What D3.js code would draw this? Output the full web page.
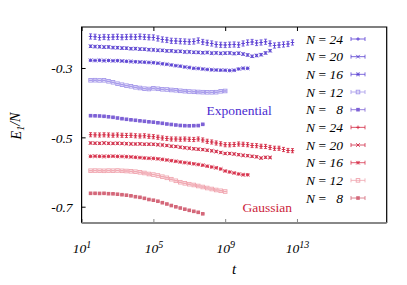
<!DOCTYPE html>
<html lang="en">
<head>
<meta charset="UTF-8">
<title>E1/N vs t</title>
<style>
    body { margin: 0; background: #fff; }
    svg text { font-family: "Liberation Serif", "Times New Roman", serif; font-style: italic; }
</style>
<script src="https://d3js.org/d3.v7.min.js"></script>
</head>
<body>
<div id="chart"></div>
<script>
    // log10 of t for each sample (series use the first n of them)
    var logT = [1.5, 1.75, 2.0, 2.25, 2.5, 2.75, 3.0, 3.25, 3.5, 3.75, 4.0, 4.25, 4.5, 4.75,
        5.0, 5.25, 5.5, 5.75, 6.0, 6.25, 6.5, 6.75, 7.0, 7.25, 7.5, 7.75, 8.0, 8.25, 8.5, 8.75,
        9.0, 9.25, 9.5, 9.75, 10.0, 10.25, 10.5, 10.75, 11.0, 11.25, 11.5, 11.75, 12.0, 12.25, 12.5, 12.75];

    var sizes = [24, 20, 16, 12, 8];

    // Exponential
    var expN24 = [-0.2091,-0.2100,-0.2120,-0.2106,-0.2115,-0.2106,-0.2100,-0.2112,-0.2106,-0.2100,-0.2106,-0.2094,-0.2106,-0.2115,
        -0.2120,-0.2149,-0.2178,-0.2192,-0.2216,-0.2221,-0.2230,-0.2236,-0.2244,-0.2236,-0.2207,-0.2250,-0.2273,-0.2293,-0.2322,-0.2331,
        -0.2337,-0.2328,-0.2322,-0.2331,-0.2293,-0.2265,-0.2250,-0.2279,-0.2265,-0.2244,-0.2293,-0.2351,-0.2337,-0.2322,-0.2308,-0.2265];
    var expN20 = [-0.2374,-0.2383,-0.2386,-0.2397,-0.2394,-0.2412,-0.2414,-0.2426,-0.2429,-0.2443,-0.2441,-0.2455,-0.2458,-0.2472,
        -0.2478,-0.2490,-0.2492,-0.2507,-0.2506,-0.2521,-0.2520,-0.2536,-0.2535,-0.2548,-0.2550,-0.2560,-0.2553,-0.2572,-0.2565,-0.2578,
        -0.2571,-0.2567,-0.2584,-0.2575,-0.2598,-0.2625,-0.2663,-0.2640,-0.2616,-0.2567,-0.2501];
    var expN16 = [-0.2778,-0.2784,-0.2778,-0.2787,-0.2784,-0.2792,-0.2789,-0.2798,-0.2807,-0.2813,-0.2821,-0.2827,-0.2833,-0.2841,
        -0.2847,-0.2862,-0.2879,-0.2893,-0.2913,-0.2933,-0.2948,-0.2971,-0.2986,-0.3009,-0.3014,-0.3029,-0.3043,-0.3052,-0.3058,-0.3063,
        -0.3066,-0.3072,-0.3066,-0.3029,-0.3009,-0.3009];
    var expN12 = [-0.3355,-0.3352,-0.3358,-0.3355,-0.3384,-0.3412,-0.3453,-0.3482,-0.3510,-0.3528,-0.3557,-0.3577,-0.3597,-0.3606,
        -0.3585,-0.3600,-0.3614,-0.3620,-0.3634,-0.3643,-0.3658,-0.3669,-0.3678,-0.3686,-0.3692,-0.3698,-0.3701,-0.3701,-0.3698,-0.3672,
        -0.3663];
    var expN8 = [-0.4376,-0.4379,-0.4384,-0.4393,-0.4407,-0.4422,-0.4442,-0.4462,-0.4479,-0.4494,-0.4508,-0.4523,-0.4537,-0.4552,
        -0.4563,-0.4580,-0.4595,-0.4615,-0.4629,-0.4644,-0.4658,-0.4664,-0.4667,-0.4664,-0.4661,-0.4624];

    // Gaussian
    var gauN24 = [-0.4924,-0.4929,-0.4932,-0.4927,-0.4932,-0.4938,-0.4932,-0.4941,-0.4946,-0.4941,-0.4955,-0.4961,-0.4955,-0.4970,
        -0.4981,-0.4998,-0.5019,-0.5033,-0.5048,-0.5048,-0.5053,-0.5048,-0.5056,-0.5062,-0.5048,-0.5076,-0.5114,-0.5134,-0.5163,-0.5186,
        -0.5212,-0.5215,-0.5206,-0.5192,-0.5200,-0.5212,-0.5235,-0.5240,-0.5258,-0.5263,-0.5292,-0.5315,-0.5315,-0.5350,-0.5379,-0.5384];
    var gauN20 = [-0.5163,-0.5169,-0.5172,-0.5163,-0.5172,-0.5175,-0.5172,-0.5177,-0.5183,-0.5189,-0.5192,-0.5189,-0.5198,-0.5198,
        -0.5200,-0.5212,-0.5221,-0.5235,-0.5255,-0.5264,-0.5284,-0.5301,-0.5313,-0.5330,-0.5342,-0.5353,-0.5371,-0.5388,-0.5408,-0.5437,
        -0.5466,-0.5466,-0.5480,-0.5500,-0.5518,-0.5529,-0.5547,-0.5561,-0.5596,-0.5576,-0.5581];
    var gauN16 = [-0.5547,-0.5544,-0.5547,-0.5550,-0.5547,-0.5544,-0.5550,-0.5552,-0.5558,-0.5564,-0.5575,-0.5584,-0.5596,-0.5604,
        -0.5607,-0.5619,-0.5636,-0.5653,-0.5673,-0.5691,-0.5711,-0.5728,-0.5745,-0.5763,-0.5783,-0.5803,-0.5832,-0.5855,-0.5878,-0.5913,
        -0.5971,-0.5999,-0.6028,-0.6057,-0.6077,-0.6080];
    var gauN12 = [-0.5962,-0.5959,-0.5962,-0.5965,-0.5959,-0.5962,-0.5956,-0.5965,-0.5971,-0.5979,-0.5991,-0.6008,-0.6028,-0.6057,
        -0.6074,-0.6100,-0.6135,-0.6167,-0.6207,-0.6253,-0.6294,-0.6325,-0.6351,-0.6374,-0.6403,-0.6432,-0.6461,-0.6490,-0.6518,-0.6541,
        -0.6562];
    var gauN8 = [-0.6614,-0.6614,-0.6617,-0.6614,-0.6625,-0.6628,-0.6640,-0.6654,-0.6668,-0.6686,-0.6712,-0.6729,-0.6758,-0.6792,
        -0.6813,-0.6842,-0.6885,-0.6922,-0.6966,-0.7003,-0.7038,-0.7072,-0.7104,-0.7133,-0.7162,-0.7205];

    // error bar half-heights, one per size
    var errExp = [0.0075, 0.0035, 0.0012, 0.0008, 0.0008];
    var errGau = [0.006, 0.003, 0.0012, 0.0008, 0.0008];

    var yTicks = [-0.7, -0.5, -0.3];
    var xTicks = [1, 5, 9, 13];

    var markers = ["plus", "cross", "star", "box", "fbox"];
    var colExp = ["#5b3fd4", "#5a42d0", "#6048d4", "#a497ea", "#7e62d6"];
    var colGau = ["#d42a44", "#d02c48", "#d8364f", "#f0a4ae", "#d4687a"];

    var width = 407, height = 285;
    var margin = {left: 81.6, right: 20.3, top: 27, bottom: 62};

    var svg = d3.select("#chart").append("svg")
        .attr("width", width)
        .attr("height", height);

    var x = d3.scaleLog()
        .domain([10, 1e18])
        .range([margin.left, width - margin.right]);

    var y = d3.scaleLinear()
        .domain([-0.747, -0.1818])
        .range([height - margin.bottom, margin.top]);

    // axes
    var yAxis = svg.append("g")
        .attr("transform", "translate(" + margin.left + ",0)")
        .call(d3.axisLeft(y).tickValues(yTicks).tickSize(-4).tickPadding(9)
            .tickFormat(function(d){ return d.toFixed(1); }));
    yAxis.select(".domain").remove();
    yAxis.selectAll("text").style("font-size", "13.5px").attr("dy", "0.35em");
    yAxis.selectAll("line").attr("stroke", "#000");

    var xAxis = svg.append("g")
        .attr("transform", "translate(0," + (height - margin.bottom) + ")")
        .call(d3.axisBottom(x).tickValues(xTicks.map(function(e){ return Math.pow(10, e); }))
            .tickSize(-4).tickPadding(20).tickFormat(""));
    xAxis.select(".domain").remove();
    xAxis.selectAll("line").attr("stroke", "#888");
    xAxis.selectAll(".tick text").each(function(d, i){
        var t = d3.select(this).style("font-size", "13.5px");
        t.append("tspan").text("10");
        t.append("tspan").attr("dy", "-0.45em").style("font-size", "10px").text(xTicks[i]);
    });

    var xTop = svg.append("g")
        .attr("transform", "translate(0," + margin.top + ")")
        .call(d3.axisTop(x).tickValues(xTicks.map(function(e){ return Math.pow(10, e); }))
            .tickSize(-4).tickFormat(""));
    xTop.select(".domain").remove();
    xTop.selectAll("line").attr("stroke", "#000");

    // frame
    var x0 = margin.left, x1 = width - margin.right, y0 = margin.top, y1 = height - margin.bottom;
    svg.append("path")
        .attr("d", "M" + x0 + "," + y1 + "V" + y0 + "H" + x1 + "V" + y1)
        .attr("fill", "none").attr("stroke", "#000").attr("stroke-width", 1.2);
    svg.append("line")
        .attr("x1", x0).attr("x2", x1).attr("y1", y1).attr("y2", y1)
        .attr("stroke", "#888").attr("stroke-width", 2);

    function marker(g, type, cx, cy, color) {
        var s = 1.8;
        if (type == "plus" || type == "star") {
            g.append("path").attr("d", "M" + (cx - s) + "," + cy + "H" + (cx + s) + "M" + cx + "," + (cy - s) + "V" + (cy + s))
                .attr("stroke", color).attr("stroke-width", 0.9);
        }
        if (type == "cross" || type == "star") {
            g.append("path").attr("d", "M" + (cx - s) + "," + (cy - s) + "L" + (cx + s) + "," + (cy + s) +
                "M" + (cx - s) + "," + (cy + s) + "L" + (cx + s) + "," + (cy - s))
                .attr("stroke", color).attr("stroke-width", 0.9);
        }
        if (type == "box") {
            g.append("rect").attr("x", cx - s).attr("y", cy - s).attr("width", 2 * s).attr("height", 2 * s)
                .attr("fill", "none").attr("stroke", color).attr("stroke-width", 0.9);
        }
        if (type == "fbox") {
            g.append("rect").attr("x", cx - s).attr("y", cy - s).attr("width", 2 * s).attr("height", 2 * s)
                .attr("fill", color);
        }
    }

    function drawSeries(values, err, type, color) {
        var g = svg.append("g");
        values.forEach(function(v, i){
            var cx = x(Math.pow(10, logT[i]));
            var cy = y(v);
            var ya = y(v + err), yb = y(v - err);
            // error bar with caps
            g.append("path")
                .attr("d", "M" + cx + "," + ya + "V" + yb +
                    "M" + (cx - 1.5) + "," + ya + "H" + (cx + 1.5) +
                    "M" + (cx - 1.5) + "," + yb + "H" + (cx + 1.5))
                .attr("stroke", color).attr("stroke-width", 0.8).attr("fill", "none");
            g.append("path")
                .attr("d", "M" + (cx - 1.5) + "," + cy + "H" + (cx + 1.5))
                .attr("stroke", color).attr("stroke-width", 0.6);
            marker(g, type, cx, cy, color);
        });
    }

    var expSeries = [expN24, expN20, expN16, expN12, expN8];
    var gauSeries = [gauN24, gauN20, gauN16, gauN12, gauN8];
    expSeries.forEach(function(s, i){ drawSeries(s, errExp[i], markers[i], colExp[i]); });
    gauSeries.forEach(function(s, i){ drawSeries(s, errGau[i], markers[i], colGau[i]); });

    // legend
    var legend = svg.append("g");
    var rows = [];
    sizes.forEach(function(n, i){ rows.push({n: n, type: markers[i], color: colExp[i]}); });
    sizes.forEach(function(n, i){ rows.push({n: n, type: markers[i], color: colGau[i]}); });
    rows.forEach(function(r, i){
        var ly = 39 + i * 17.67;
        var t = legend.append("text")
            .attr("x", 343).attr("y", ly + 4.5)
            .attr("text-anchor", "end")
            .style("font-size", "13.5px")
            .attr("xml:space", "preserve");
        t.append("tspan").text("N");
        t.append("tspan").style("font-style", "normal").text(" = ");
        t.append("tspan").text(r.n < 10 ? "  " + r.n : r.n);
        legend.append("path")
            .attr("d", "M351," + ly + "H365M351," + (ly - 2) + "V" + (ly + 2) + "M365," + (ly - 2) + "V" + (ly + 2))
            .attr("stroke", r.color).attr("stroke-width", 0.8).attr("fill", "none");
        marker(legend, r.type, 358, ly, r.color);
    });

    // annotations
    svg.append("text")
        .attr("x", 206.5).attr("y", 115)
        .style("font-style", "normal").style("font-size", "13.5px")
        .attr("fill", "#4b2bd0")
        .text("Exponential");
    svg.append("text")
        .attr("x", 242.5).attr("y", 212)
        .style("font-style", "normal").style("font-size", "13.5px")
        .attr("fill", "#cc1f3d")
        .text("Gaussian");

    // axis labels
    var yl = svg.append("text")
        .attr("transform", "translate(21,126) rotate(-90)")
        .attr("text-anchor", "middle")
        .style("font-size", "14px");
    yl.append("tspan").text("E");
    yl.append("tspan").attr("dy", "0.3em").style("font-size", "10px").text("1");
    yl.append("tspan").attr("dy", "-0.3em").text("/N");

    svg.append("text")
        .attr("x", 234).attr("y", 274)
        .attr("text-anchor", "middle")
        .style("font-size", "15px")
        .text("t");
</script>
</body>
</html>
